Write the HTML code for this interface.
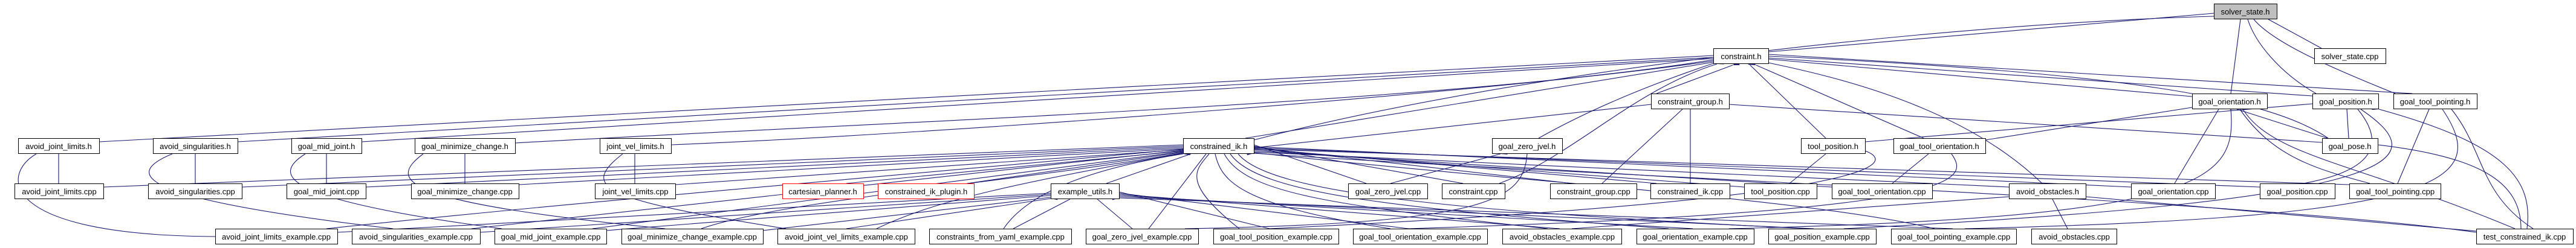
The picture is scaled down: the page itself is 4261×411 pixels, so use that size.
<!DOCTYPE html>
<html><head><meta charset="utf-8"><style>
html,body{margin:0;padding:0;background:#fff;}
svg{display:block;}
text{font-family:"Liberation Sans",sans-serif;font-size:13px;fill:#000;text-anchor:middle;}
.n{fill:#fff;stroke:#000;stroke-width:1;}
.r{fill:#fff;stroke:#f00;stroke-width:1;}
.g{fill:#bfbfbf;stroke:#000;stroke-width:1;}
path{fill:none;stroke:#191970;stroke-width:1.1;marker-start:url(#a);}
</style></head><body>
<svg width="4261" height="411" viewBox="0 0 4261 411" xmlns="http://www.w3.org/2000/svg">
<defs><marker id="a" markerUnits="userSpaceOnUse" markerWidth="12" markerHeight="10" refX="0" refY="4" orient="auto-start-reverse"><polygon points="0,4 11,0 11,8" fill="#191970"/></marker></defs>
<g>
<!-- edges: path starts at parent (arrow) -->
<path d="M3662,22 L2925,86"/>
<path d="M3662,27 C3200,40 2500,120 2074,232"/>
<path d="M3752,32 L3840,80"/>
<path d="M3706,32 L3690,155"/>
<path d="M3718,32 C3730,70 3770,120 3831,155"/>
<path d="M3728,32 C3760,70 3850,110 3962,155"/>

<path d="M2834,92 L164,235"/>
<path d="M2834,95 L393,235"/>
<path d="M2834,97 L598,235"/>
<path d="M2834,99 C2400,170 1500,200 852,237"/>
<path d="M2834,101 C2500,150 1600,220 1110,240"/>
<path d="M2834,103 L2060,229"/>
<path d="M2834,105 C2760,130 2650,170 2545,229"/>
<path d="M2840,106 C2700,150 2600,260 2480,304"/>
<path d="M2866,108 L2740,155"/>
<path d="M2895,108 L3020,229"/>
<path d="M2905,108 L3182,229"/>
<path d="M2925,104 C3050,130 3250,180 3378,304"/>
<path d="M2925,98 L3626,160"/>
<path d="M2925,96 L3825,159"/>
<path d="M2925,93 C3500,120 3750,160 3851,229"/>
<path d="M2925,90 L3990,155"/>

<path d="M2731,173 L2074,245"/>
<path d="M2783,181 L2650,304"/>
<path d="M2796,181 L2796,304"/>
<path d="M2860,173 L3841,236"/>

<path d="M3670,181 L3597,304"/>
<path d="M3690,181 C3700,300 3650,360 2860,379"/>
<path d="M3700,181 L3850,229"/>
<path d="M3710,181 C3760,260 3900,270 4160,379"/>
<path d="M3705,181 C3760,260 3830,280 3920,304"/>
<path d="M3626,178 L3284,232"/>
<path d="M3825,172 L3085,235"/>
<path d="M4018,181 L3966,304"/>
<path d="M4055,181 C4110,250 4100,320 4190,379"/>
<path d="M4040,181 C4120,300 4050,360 3250,379"/>
<path d="M3900,181 C3940,230 3940,280 3810,304"/>
<path d="M3882,181 L3885,229"/>
<path d="M3905,181 C4020,260 4020,330 3050,379"/>
<path d="M3935,181 C4150,240 4190,300 4180,379"/>
<path d="M3933,240 C4100,260 4170,300 4170,379"/>

<path d="M3020,255 L2960,304"/>
<path d="M3085,250 C3140,270 3120,330 2100,379"/>
<path d="M3190,255 L3130,304"/>
<path d="M3228,255 C3260,300 3250,350 2330,379"/>
<path d="M3395,330 L3420,379"/>
<path d="M3323,326 L2600,379"/>
<path d="M3450,326 L4096,383"/>

<path d="M2482,255 L2300,304"/>
<path d="M2526,255 C2520,330 2470,370 1960,379"/>

<path d="M540,255 L540,304"/>
<path d="M505,255 C450,290 460,330 830,379"/>
<path d="M97,255 L97,304"/>
<path d="M60,255 C0,290 0,390 356,392"/>
<path d="M323,255 L323,304"/>
<path d="M285,255 C200,290 230,330 650,379"/>
<path d="M769,255 L769,304"/>
<path d="M700,255 C640,300 660,335 1100,379"/>
<path d="M1050,255 L1050,304"/>
<path d="M1030,255 C960,310 990,330 1300,379"/>

<path d="M1957,240 L171,310"/>
<path d="M1957,242 L400,310"/>
<path d="M1957,244 L605,310"/>
<path d="M1957,246 L858,306"/>
<path d="M1957,248 L1117,306"/>
<path d="M1957,250 L1400,304"/>
<path d="M1957,252 L1600,304"/>
<path d="M1957,247 C1500,290 1000,330 540,379"/>
<path d="M1957,249 C1500,300 1100,340 780,379"/>
<path d="M1957,251 C1500,310 1200,350 980,379"/>
<path d="M1957,253 C1700,300 1300,330 1160,379"/>
<path d="M1957,254 C1700,300 1550,330 1450,379"/>
<path d="M1957,255 C1800,280 1700,320 1660,379"/>
<path d="M1970,255 L1830,304"/>
<path d="M1995,255 L1900,379"/>
<path d="M2000,255 C1980,280 1950,300 2050,379"/>
<path d="M2010,255 C2020,300 2050,340 2300,379"/>
<path d="M2025,255 C2060,320 2200,340 2560,379"/>
<path d="M2035,255 C2080,320 2300,345 2760,379"/>
<path d="M2048,255 C2100,320 2400,350 2990,379"/>
<path d="M2074,240 L2260,304"/>
<path d="M2074,242 L2420,304"/>
<path d="M2074,244 L2600,304"/>
<path d="M2074,246 L2740,304"/>
<path d="M2074,248 L2885,310"/>
<path d="M2074,250 L3030,310"/>
<path d="M2074,252 L3323,310"/>
<path d="M2074,243 L3525,310"/>
<path d="M2074,245 L3738,310"/>
<path d="M2074,247 L3886,306"/>
<path d="M2074,254 C2600,290 3700,330 4096,385"/>
<path d="M2074,253 C2500,300 3000,330 3200,379"/>

<path d="M1738,320 L558,385"/>
<path d="M1738,322 L794,385"/>
<path d="M1738,324 L1003,382"/>
<path d="M1738,327 L1262,382"/>
<path d="M1770,330 L1676,379"/>
<path d="M1815,330 L1873,379"/>
<path d="M1851,318 L2100,379"/>
<path d="M1851,320 L2330,379"/>
<path d="M1851,322 L2580,379"/>
<path d="M1851,324 L2800,379"/>
<path d="M1851,326 L3000,379"/>
<path d="M1851,328 L3230,379"/>
<path d="M1738,329 L1400,379"/>
</g>
<g>
<rect class="g" x="3662.5" y="6.5" width="104" height="25"/><text x="3714" y="24">solver_state.h</text>
<rect class="n" x="2834.5" y="80.5" width="91" height="25"/><text x="2880" y="98">constraint.h</text>
<rect class="n" x="3828.5" y="80.5" width="118" height="25"/><text x="3887" y="98">solver_state.cpp</text>
<rect class="n" x="2731.5" y="155.5" width="129" height="25"/><text x="2796" y="173">constraint_group.h</text>
<rect class="n" x="3626.5" y="155.5" width="124" height="25"/><text x="3688" y="173">goal_orientation.h</text>
<rect class="n" x="3825.5" y="155.5" width="109" height="25"/><text x="3880" y="173">goal_position.h</text>
<rect class="n" x="3959.5" y="155.5" width="138" height="25"/><text x="4028" y="173">goal_tool_pointing.h</text>

<rect class="n" x="30.5" y="229.5" width="134" height="25"/><text x="97" y="247">avoid_joint_limits.h</text>
<rect class="n" x="253.5" y="229.5" width="140" height="25"/><text x="323" y="247">avoid_singularities.h</text>
<rect class="n" x="482.5" y="229.5" width="116" height="25"/><text x="540" y="247">goal_mid_joint.h</text>
<rect class="n" x="686.5" y="229.5" width="166" height="25"/><text x="769" y="247">goal_minimize_change.h</text>
<rect class="n" x="992.5" y="229.5" width="118" height="25"/><text x="1051" y="247">joint_vel_limits.h</text>
<rect class="n" x="1957.5" y="229.5" width="117" height="25"/><text x="2016" y="247">constrained_ik.h</text>
<rect class="n" x="2468.5" y="229.5" width="116" height="25"/><text x="2526" y="247">goal_zero_jvel.h</text>
<rect class="n" x="2979.5" y="229.5" width="106" height="25"/><text x="3032" y="247">tool_position.h</text>
<rect class="n" x="3132.5" y="229.5" width="152" height="25"/><text x="3208" y="247">goal_tool_orientation.h</text>
<rect class="n" x="3841.5" y="229.5" width="92" height="25"/><text x="3887" y="247">goal_pose.h</text>

<rect class="n" x="24.5" y="304.5" width="147" height="25"/><text x="98" y="322">avoid_joint_limits.cpp</text>
<rect class="n" x="245.5" y="304.5" width="155" height="25"/><text x="323" y="322">avoid_singularities.cpp</text>
<rect class="n" x="474.5" y="304.5" width="131" height="25"/><text x="540" y="322">goal_mid_joint.cpp</text>
<rect class="n" x="680.5" y="304.5" width="178" height="25"/><text x="769" y="322">goal_minimize_change.cpp</text>
<rect class="n" x="984.5" y="304.5" width="133" height="25"/><text x="1051" y="322">joint_vel_limits.cpp</text>
<rect class="r" x="1294.5" y="304.5" width="134" height="25"/><text x="1361" y="322">cartesian_planner.h</text>
<rect class="r" x="1452.5" y="304.5" width="159" height="25"/><text x="1532" y="322">constrained_ik_plugin.h</text>
<rect class="n" x="1738.5" y="304.5" width="113" height="25"/><text x="1795" y="322">example_utils.h</text>
<rect class="n" x="2230.5" y="304.5" width="131" height="25"/><text x="2296" y="322">goal_zero_jvel.cpp</text>
<rect class="n" x="2385.5" y="304.5" width="104" height="25"/><text x="2437" y="322">constraint.cpp</text>
<rect class="n" x="2564.5" y="304.5" width="143" height="25"/><text x="2636" y="322">constraint_group.cpp</text>
<rect class="n" x="2730.5" y="304.5" width="131" height="25"/><text x="2796" y="322">constrained_ik.cpp</text>
<rect class="n" x="2885.5" y="304.5" width="120" height="25"/><text x="2945" y="322">tool_position.cpp</text>
<rect class="n" x="3030.5" y="304.5" width="166" height="25"/><text x="3113" y="322">goal_tool_orientation.cpp</text>
<rect class="n" x="3323.5" y="304.5" width="127" height="25"/><text x="3387" y="322">avoid_obstacles.h</text>
<rect class="n" x="3525.5" y="304.5" width="139" height="25"/><text x="3595" y="322">goal_orientation.cpp</text>
<rect class="n" x="3738.5" y="304.5" width="124" height="25"/><text x="3800" y="322">goal_position.cpp</text>
<rect class="n" x="3886.5" y="304.5" width="151" height="25"/><text x="3962" y="322">goal_tool_pointing.cpp</text>

<rect class="n" x="356.5" y="379.5" width="202" height="25"/><text x="457" y="397">avoid_joint_limits_example.cpp</text>
<rect class="n" x="582.5" y="379.5" width="212" height="25"/><text x="688" y="397">avoid_singularities_example.cpp</text>
<rect class="n" x="818.5" y="379.5" width="185" height="25"/><text x="911" y="397">goal_mid_joint_example.cpp</text>
<rect class="n" x="1028.5" y="379.5" width="234" height="25"/><text x="1145" y="397">goal_minimize_change_example.cpp</text>
<rect class="n" x="1286.5" y="379.5" width="227" height="25"/><text x="1400" y="397">avoid_joint_vel_limits_example.cpp</text>
<rect class="n" x="1537.5" y="379.5" width="235" height="25"/><text x="1655" y="397">constraints_from_yaml_example.cpp</text>
<rect class="n" x="1796.5" y="379.5" width="186" height="25"/><text x="1889" y="397">goal_zero_jvel_example.cpp</text>
<rect class="n" x="2007.5" y="379.5" width="207" height="25"/><text x="2111" y="397">goal_tool_position_example.cpp</text>
<rect class="n" x="2238.5" y="379.5" width="222" height="25"/><text x="2349" y="397">goal_tool_orientation_example.cpp</text>
<rect class="n" x="2485.5" y="379.5" width="197" height="25"/><text x="2584" y="397">avoid_obstacles_example.cpp</text>
<rect class="n" x="2707.5" y="379.5" width="194" height="25"/><text x="2804" y="397">goal_orientation_example.cpp</text>
<rect class="n" x="2925.5" y="379.5" width="178" height="25"/><text x="3014" y="397">goal_position_example.cpp</text>
<rect class="n" x="3128.5" y="379.5" width="207" height="25"/><text x="3232" y="397">goal_tool_pointing_example.cpp</text>
<rect class="n" x="3360.5" y="379.5" width="141" height="25"/><text x="3431" y="397">avoid_obstacles.cpp</text>
<rect class="n" x="4096.5" y="379.5" width="160" height="25"/><text x="4176" y="397">test_constrained_ik.cpp</text>
</g>
</svg>
</body></html>
